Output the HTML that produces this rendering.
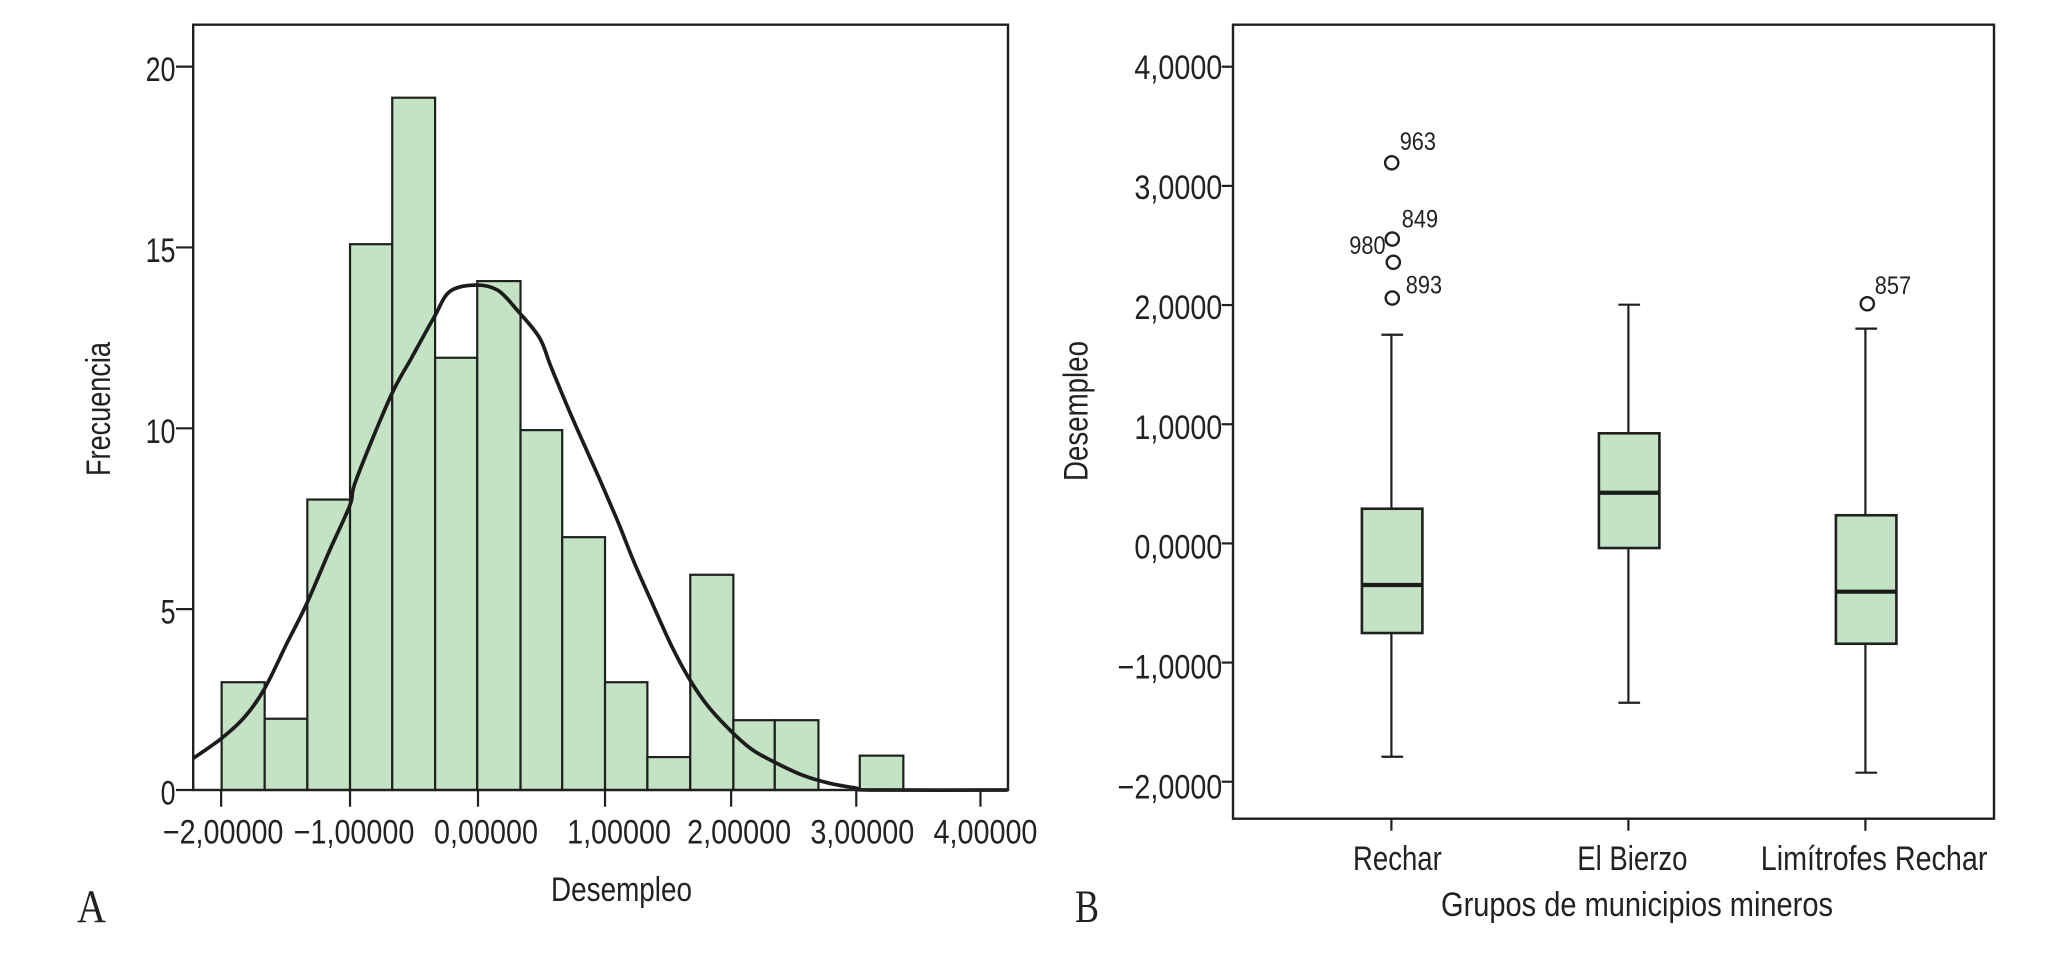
<!DOCTYPE html>
<html lang="es">
<head>
<meta charset="utf-8">
<title>Desempleo: histograma y diagrama de cajas</title>
<style>
html,body{margin:0;padding:0;background:#fff;width:2050px;height:958px;overflow:hidden}
svg{display:block}
text{font-family:"Liberation Sans",sans-serif;fill:#222}
.serif{font-family:"Liberation Serif",serif}
</style>
</head>
<body>
<svg id="figure" width="2050" height="958" viewBox="0 0 2050 958" xmlns="http://www.w3.org/2000/svg">
  <defs>
    <clipPath id="hist-clip"><rect x="193" y="24" width="815" height="768"/></clipPath>
  </defs>
  <rect x="0" y="0" width="2050" height="958" fill="#fff"/>
  <g id="hist"></g>
  <g id="box"></g>
  <text class="serif" x="77" y="922" font-size="47" textLength="29" lengthAdjust="spacingAndGlyphs">A</text>
  <text class="serif" x="1075" y="922" font-size="47" textLength="24" lengthAdjust="spacingAndGlyphs">B</text>
  <text x="551" y="901" font-size="34" textLength="141" lengthAdjust="spacingAndGlyphs">Desempleo</text>
  <text transform="translate(110,476) rotate(-90)" x="0" y="0" font-size="34" textLength="134" lengthAdjust="spacingAndGlyphs">Frecuencia</text>
  <text transform="translate(1087.5,481) rotate(-90)" x="0" y="0" font-size="34" textLength="140" lengthAdjust="spacingAndGlyphs">Desempleo</text>
  <text x="1441" y="916" font-size="34" textLength="392" lengthAdjust="spacingAndGlyphs">Grupos de municipios mineros</text>
</svg>
<script>
// ---- Histogram data ----
const binEdges = [-1.996,-1.663,-1.332,-1.0,-0.671,-0.336,-0.006,0.334,0.662,1.0,1.335,1.675,2.018,2.348,2.697,3.028,3.378];
const binCounts = [2.98,1.97,8.03,15.09,19.14,11.95,14.07,9.95,6.99,2.98,0.91,5.95,1.93,1.93,0,0.95];
const curveValues = [-2.215,-1.996,-1.815,-1.663,-1.49,-1.342,-1.163,-1.0,-0.953,-0.685,-0.521,-0.341,-0.222,-0.027,0.153,0.319,0.484,0.574,0.731,0.956,1.107,1.228,1.38,1.53,1.673,1.82,2.016,2.17,2.34,2.57,2.78,3.0,3.12,4.22];
const curveFrequency = [0.876,1.43,2.03,2.81,4.06,5.11,6.59,7.88,8.57,10.87,11.94,13.09,13.78,13.96,13.82,13.22,12.5,11.7,10.37,8.6,7.37,6.31,5.11,3.96,3.04,2.3,1.57,1.11,0.78,0.41,0.19,0.05,0,0];
const histXTicks = [-2,-1,0,1,2,3,4];
const histXTickLabels = ['−2,00000','−1,00000','0,00000','1,00000','2,00000','3,00000','4,00000'];
const histYTicks = [0,5,10,15,20];
const histYTickLabels = ['0','5','10','15','20'];

// ---- Boxplot data ----
const groups = ['Rechar','El Bierzo','Limítrofes Rechar'];
const whiskerHigh = [1.751,2.003,1.802];
const quartile3 = [0.291,0.924,0.236];
const medians = [-0.349,0.425,-0.405];
const quartile1 = [-0.752,-0.039,-0.842];
const whiskerLow = [-1.79,-1.337,-1.924];
const outlierGroup = [0,0,0,0,2];
const outlierValue = [3.194,2.554,2.359,2.059,2.011];
const outlierId = ['963','849','980','893','857'];
const boxYTicks = [-2,-1,0,1,2,3,4];
const boxYTickLabels = ['−2,0000','−1,0000','0,0000','1,0000','2,0000','3,0000','4,0000'];

// ---- Axis functions ----
function histX(v){ return 478 + 127.5*v - 0.47*v*v; }
function histY(f){ return 790 - 36.17*f; }
function boxX(i){ return 1391.4 + 237*i; }
function boxY(v){ return 543.4 - 119.17*v; }

const SVGNS = 'http://www.w3.org/2000/svg';
const INK = '#1f211f';
const FILL = '#c4e2c4';
function add(parent, tag, attrs, content){
  const el = document.createElementNS(SVGNS, tag);
  for (const k in attrs) el.setAttribute(k, attrs[k]);
  if (content !== undefined) el.textContent = content;
  parent.appendChild(el);
  return el;
}
function condense(el, k){
  el.setAttribute('textLength', (el.getComputedTextLength()*k).toFixed(1));
  el.setAttribute('lengthAdjust', 'spacingAndGlyphs');
}
function smoothPath(px, py){
  let d = 'M' + px[0].toFixed(1) + ' ' + py[0].toFixed(1);
  for (let i = 0; i < px.length - 1; i++){
    const a = Math.max(i - 1, 0), b = Math.min(i + 2, px.length - 1);
    const c1x = px[i] + (px[i+1] - px[a]) / 6;
    const c1y = py[i] + (py[i+1] - py[a]) / 6;
    const c2x = px[i+1] - (px[b] - px[i]) / 6;
    const c2y = py[i+1] - (py[b] - py[i]) / 6;
    d += 'C' + c1x.toFixed(1) + ' ' + c1y.toFixed(1) + ' ' + c2x.toFixed(1) + ' ' + c2y.toFixed(1) + ' ' + px[i+1].toFixed(1) + ' ' + py[i+1].toFixed(1);
  }
  return d;
}

const hist = document.getElementById('hist');
const box = document.getElementById('box');

// Histogram bars
binCounts.forEach(function(c, i){
  if (c <= 0) return;
  const x0 = histX(binEdges[i]);
  const x1 = histX(binEdges[i+1]);
  const el = add(hist, 'rect', {x:x0, y:histY(c), width:x1-x0, height:histY(0)-histY(c), fill:FILL, stroke:INK, 'stroke-width':2.2});
  
  
});

// Normal curve
const curvePath = smoothPath(curveValues.map(histX), curveFrequency.map(histY));
const curve = add(hist, 'path', {d:curvePath, fill:'none', stroke:'#1c1c1c', 'stroke-width':3.7, 'stroke-linejoin':'round', 'clip-path':'url(#hist-clip)'});



// Histogram frame
const histFrame = add(hist, 'rect', {x:193.2, y:24.7, width:814.8, height:765.3, fill:'none', stroke:INK, 'stroke-width':2.4});



// Histogram y axis
histYTicks.forEach(function(v, i){
  const y = histY(v);
  const t = add(hist, 'line', {x1:176, x2:193, y1:y, y2:y, stroke:INK, 'stroke-width':2.2});
  
  
  const l = add(hist, 'text', {x:175.5, y:y+14.5, 'text-anchor':'end', 'font-size':34}, histYTickLabels[i]);
  
  
  condense(l, 0.79);
});

// Histogram x axis
const histLabelNudge = [2,4,8,14,8,6,5];
histXTicks.forEach(function(v, i){
  const x = histX(v);
  const t = add(hist, 'line', {x1:x, x2:x, y1:790, y2:806.7, stroke:INK, 'stroke-width':2.2});
  
  
  const l = add(hist, 'text', {x:x+histLabelNudge[i], y:843.5, 'text-anchor':'middle', 'font-size':34}, histXTickLabels[i]);
  
  
  condense(l, 0.845);
});

// Boxplot frame
const boxFrame = add(box, 'rect', {x:1233, y:24.7, width:761, height:794, fill:'none', stroke:INK, 'stroke-width':2.4});



// Boxplot y axis
boxYTicks.forEach(function(v, i){
  const y = boxY(v);
  const t = add(box, 'line', {x1:1221.7, x2:1233, y1:y, y2:y, stroke:INK, 'stroke-width':2.2});
  
  
  const l = add(box, 'text', {x:1222.3, y:y+12.5+(4-v)*0.7, 'text-anchor':'end', 'font-size':34}, boxYTickLabels[i]);
  
  
  condense(l, 0.845);
});

// Boxes
const groupLabelNudge = [6,4,8.7];
const groupLabelWidth = [0.81,0.81,0.845];
groups.forEach(function(name, i){
  const x = boxX(i);
  const whisker = add(box, 'line', {x1:x, x2:x, y1:boxY(whiskerHigh[i]), y2:boxY(whiskerLow[i]), stroke:INK, 'stroke-width':2.2});
  
  
  const capHi = add(box, 'line', {x1:x-10, x2:x+11.7, y1:boxY(whiskerHigh[i]), y2:boxY(whiskerHigh[i]), stroke:INK, 'stroke-width':2.2});
  
  
  const capLo = add(box, 'line', {x1:x-10, x2:x+11.7, y1:boxY(whiskerLow[i]), y2:boxY(whiskerLow[i]), stroke:INK, 'stroke-width':2.2});
  
  
  const rect = add(box, 'rect', {x:x-29.5, y:boxY(quartile3[i]), width:60.5, height:boxY(quartile1[i])-boxY(quartile3[i]), fill:FILL, stroke:INK, 'stroke-width':2.6});
  
  
  const med = add(box, 'line', {x1:x-29.5, x2:x+31, y1:boxY(medians[i]), y2:boxY(medians[i]), stroke:'#1a1c1a', 'stroke-width':4.2});
  
  
  const tick = add(box, 'line', {x1:x, x2:x, y1:818.7, y2:830.7, stroke:INK, 'stroke-width':2.2});
  
  
  const l = add(box, 'text', {x:x+groupLabelNudge[i], y:870, 'text-anchor':'middle', 'font-size':34}, name);
  
  
  condense(l, groupLabelWidth[i]);
});

// Outliers
const outlierDx = [0.3,0.9,1.9,0.9,1.9];
const labelOffsetX = [8,9.5,-44,13.5,7.5];
const labelOffsetY = [-12.7,-11.3,-8.3,-4.7,-9.7];
outlierValue.forEach(function(v, i){
  const cx = boxX(outlierGroup[i]) + outlierDx[i];
  const cy = boxY(v);
  const c = add(box, 'circle', {cx:cx, cy:cy, r:6.6, fill:'#fff', stroke:INK, 'stroke-width':2.4});
  
  
  const l = add(box, 'text', {x:cx+labelOffsetX[i], y:cy+labelOffsetY[i], 'font-size':25}, outlierId[i]);
  
  
  condense(l, 0.87);
});
</script>
</body>
</html>
